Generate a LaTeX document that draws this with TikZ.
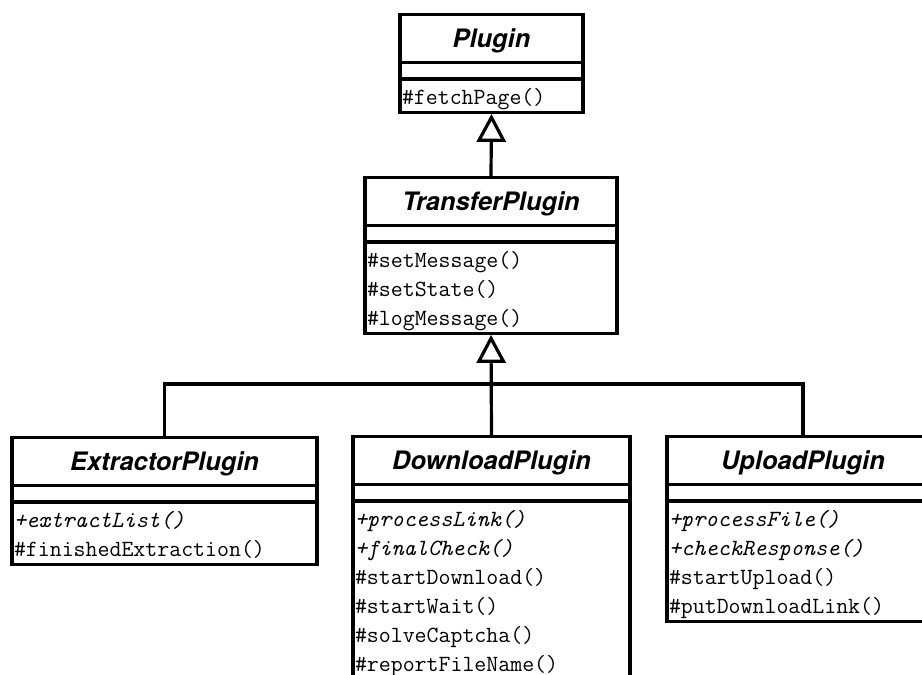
\documentclass[tikz,border=0pt]{standalone}
\usepackage{fontspec}
\usepackage{tikz}
\usetikzlibrary{shapes.multipart,arrows.meta}

\newfontfamily\classfont{TeX Gyre Heros}
\newcommand{\umlname}[1]{{\classfont\bfseries\itshape\fontsize{12.7}{14}\selectfont\rule[-6pt]{0pt}{20.5pt}#1}}
\newcommand{\umlgap}{\rule{0pt}{4.5pt}}
\newcommand{\umlops}[1]{\raisebox{0pt}[\height][\dimexpr\depth-2.5pt\relax]{\begin{tabular}{@{}l@{}}\rule{0pt}{11.2pt}#1\end{tabular}}}

\tikzset{
  umlclass/.style={draw, line width=1.6pt, anchor=north,
    rectangle split, rectangle split parts=3,
    rectangle split part align={center,left,left},
    inner xsep=1pt, inner ysep=1pt,
    font=\ttfamily\fontsize{11.6}{14.5}\selectfont},
  inherit/.style={line width=1.6pt, -{Triangle[open,length=14pt,width=14.5pt]}}
}

\begin{document}
\begin{tikzpicture}[x=5pt,y=5pt]
 \useasboundingbox (0,0) rectangle (92.2,67.5);

 \node[umlclass, minimum width=91.5pt] (plugin) at (49.15,66.2)
  {\umlname{Plugin}\nodepart{two}\umlgap\nodepart{three}\umlops{\#fetchPage()}};
 \node[umlclass, minimum width=126pt] (transfer) at (49.1,49.9)
  {\umlname{TransferPlugin}\nodepart{two}\umlgap\nodepart{three}\umlops{\#setMessage()\\ \#setState()\\ \#logMessage()}};

 \node[umlclass, minimum width=152.5pt] (extractor) at (16.45,23.9)
  {\umlname{ExtractorPlugin}\nodepart{two}\umlgap\nodepart{three}\umlops{\textit{+extractList()}\\ \#finishedExtraction()}};
 \node[umlclass, minimum width=138.5pt] (download) at (49.15,24.0)
  {\umlname{DownloadPlugin}\nodepart{two}\umlgap\nodepart{three}\umlops{\textit{+processLink()}\\ \textit{+finalCheck()}\\ \#startDownload()\\ \#startWait()\\ \#solveCaptcha()\\ \#reportFileName()}};
 \node[umlclass, minimum width=136pt] (upload) at (80.3,24.0)
  {\umlname{UploadPlugin}\nodepart{two}\umlgap\nodepart{three}\umlops{\textit{+processFile()}\\ \textit{+checkResponse()}\\ \#startUpload()\\ \#putDownloadLink()}};

 \coordinate (bus) at (49.15,29.1);

 \draw[inherit] (transfer.north) -- (plugin.south);
 \draw[inherit] (download.north) -- (transfer.south);
 \draw[line width=1.6pt] (extractor.north) |- (bus) -| (upload.north);
\end{tikzpicture}
\end{document}
